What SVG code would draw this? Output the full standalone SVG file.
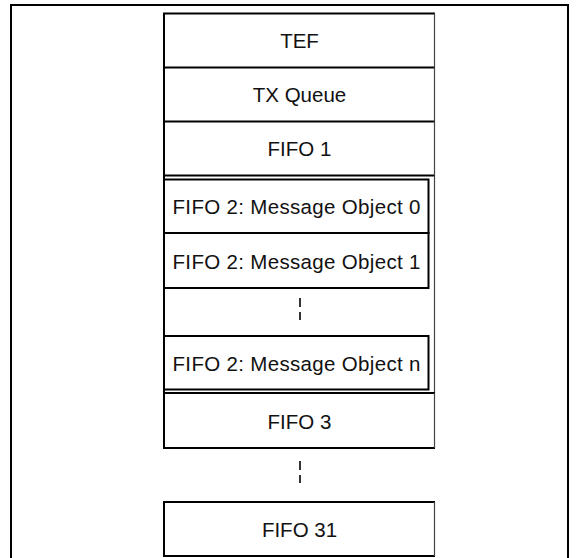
<svg xmlns="http://www.w3.org/2000/svg" width="576" height="558" viewBox="0 0 576 558">
<style>
.edge{fill:none;stroke:#000;stroke-width:2}
.side{fill:none;stroke:#444;stroke-width:1.2}
.lbl{font-family:"Liberation Sans",Arial,sans-serif;font-size:20.5px;fill:#111;text-anchor:middle}
.dash{fill:none;stroke:#000;stroke-width:1.6;stroke-dasharray:9,5}
</style>
<rect width="576" height="558" fill="#fff"/>
<path class="edge" d="M11,560 V5 H568 V560"/>
<g id="tef">
<path class="edge" d="M435,13.5 H164 V67.5 H435"/>
<path class="side" d="M434.5,13.5 V67.5"/>
<text class="lbl" x="299.5" y="47.5">TEF</text>
</g>
<g id="txqueue">
<path class="edge" d="M164,67.5 V121.5 H435"/>
<path class="side" d="M434.5,67.5 V121.5"/>
<text class="lbl" x="299.5" y="101.5">TX Queue</text>
</g>
<g id="fifo1">
<path class="edge" d="M164,121.5 V175.5 H435"/>
<path class="side" d="M434.5,121.5 V175.5"/>
<text class="lbl" x="299.5" y="156">FIFO 1</text>
</g>
<g id="fifo2">
<path class="edge" d="M164,175.5 V393"/>
<path class="side" d="M434.5,175.5 V393"/>
</g>
<g id="fifo2-obj0">
<path class="edge" d="M164,179.5 H428.5 V233 H164 Z"/>
<text class="lbl" x="296.5" y="214" textLength="248" lengthAdjust="spacing">FIFO 2: Message Object 0</text>
</g>
<g id="fifo2-obj1">
<path class="edge" d="M164,233 H428.5 V288 H164 Z"/>
<text class="lbl" x="296.5" y="269" textLength="248" lengthAdjust="spacing">FIFO 2: Message Object 1</text>
</g>
<g id="fifo2-objn">
<path class="edge" d="M164,336 H428.5 V389.5 H164 Z"/>
<text class="lbl" x="296.5" y="370.5" textLength="248" lengthAdjust="spacing">FIFO 2: Message Object n</text>
</g>
<g id="fifo3">
<path class="edge" d="M435,393 H164 V448 H435"/>
<path class="side" d="M434.5,393 V448"/>
<text class="lbl" x="299.5" y="429">FIFO 3</text>
</g>
<g id="fifo31">
<path class="edge" d="M435,502 H164 V556 H435"/>
<path class="side" d="M434.5,502 V556"/>
<text class="lbl" x="299.5" y="537">FIFO 31</text>
</g>
<g id="connectors">
<path class="dash" d="M300,298 V320"/>
<path class="dash" d="M300,461 V483"/>
</g>
</svg>
